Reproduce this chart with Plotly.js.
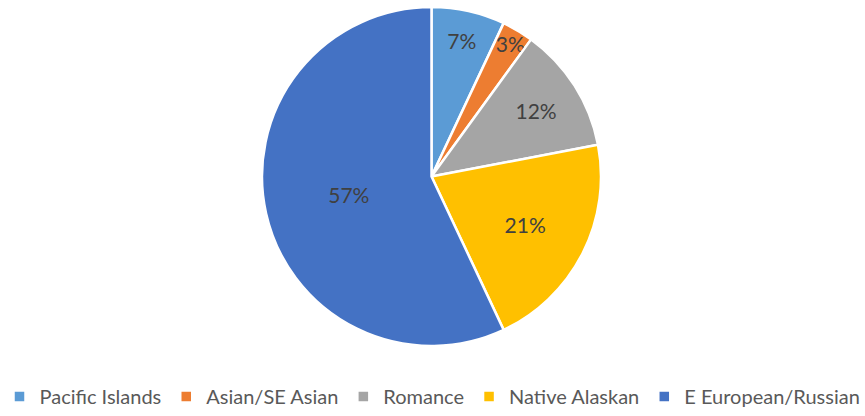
<!DOCTYPE html>
<html>
<head>
<meta charset="utf-8">
<script src="https://cdn.plot.ly/plotly-3.0.1.min.js"></script>
<style>html,body{margin:0;padding:0;background:#fff;}#chart{width:865px;height:416px;}</style>
</head>
<body>
<div id="chart"></div>
<script>
const categories = ["Pacific Islands", "Asian/SE Asian", "Romance", "Native Alaskan", "E European/Russian"];
const shares = [7, 3, 12, 21, 57];
const sliceColors = ["#5B9BD5", "#ED7D31", "#A5A5A5", "#FFC000", "#4472C4"];

const W = 865, H = 416;
const trace = {
  type: "pie",
  labels: categories,
  values: shares,
  sort: false,
  direction: "clockwise",
  rotation: 0,
  marker: {colors: sliceColors, line: {color: "#ffffff", width: 2.5}},
  texttemplate: "%{percent:.0%}",
  textposition: "inside",
  insidetextorientation: "horizontal",
  textfont: {family: "Lato, sans-serif", size: 21, color: "#404040"},
  hoverinfo: "label+percent",
  domain: {x: [262 / W, 601 / W], y: [1 - 346 / H, 1 - 7 / H]}
};
const layout = {
  width: W, height: H,
  margin: {l: 0, r: 0, t: 0, b: 0},
  paper_bgcolor: "#ffffff",
  showlegend: true,
  uniformtext: {mode: "show", minsize: 21},
  legend: {
    orientation: "h", x: 0.5, xanchor: "center", y: 0.0, yanchor: "bottom",
    font: {family: "Lato, sans-serif", size: 20, color: "#595959"},
    traceorder: "normal", itemwidth: 30
  },
  font: {family: "Lato, sans-serif"}
};
Plotly.newPlot("chart", [trace], layout, {displayModeBar: false, staticPlot: true});
</script>
</body>
</html>
